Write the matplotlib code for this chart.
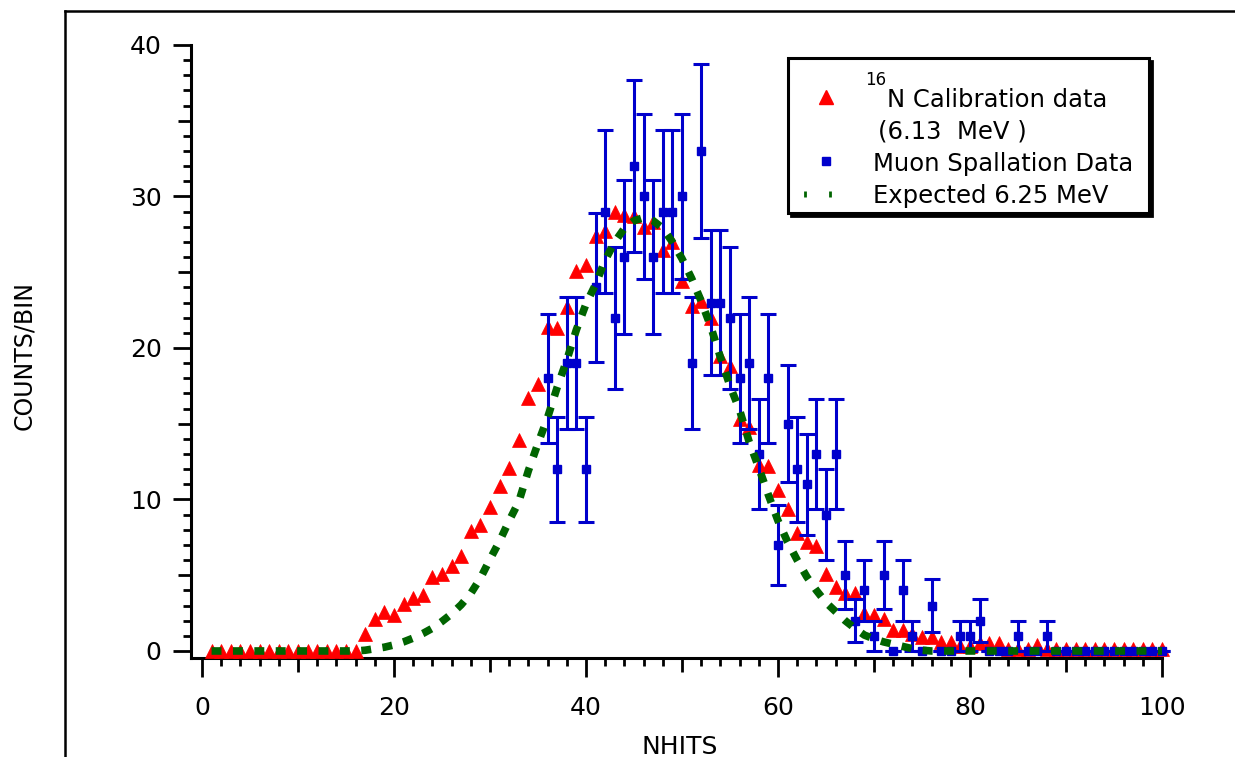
import numpy as np
import matplotlib
matplotlib.use("Agg")
import matplotlib.pyplot as plt
from matplotlib.patches import Rectangle
from matplotlib.lines import Line2D

# ---- data -----------------------------------------------------------------
nhits = list(range(1, 101))

# 16N calibration data (scaled counts per NHITS bin, bins 1..100)
n16_counts = [
    0, 0, 0, 0, 0, 0, 0, 0, 0, 0,
    0, 0, 0, 0, 0, 0, 1.1, 2.1, 2.6, 2.4,
    3.1, 3.5, 3.7, 4.9, 5.1, 5.6, 6.3, 7.9, 8.3, 9.5,
    10.9, 12.1, 13.9, 16.7, 17.6, 21.4, 21.3, 22.7, 25.1, 25.5,
    27.4, 27.7, 29.0, 28.8, 28.7, 28.0, 28.3, 26.5, 27.0, 24.4,
    22.8, 23.1, 22.0, 19.5, 18.8, 15.3, 14.8, 12.3, 12.2, 10.6,
    9.4, 7.8, 7.2, 6.9, 5.1, 4.2, 3.8, 3.8, 2.5, 2.4,
    2.1, 1.4, 1.4, 1.1, 0.9, 0.9, 0.6, 0.6, 0.3, 0.3,
    0.5, 0.5, 0.5, 0.15, 0.15, 0.1, 0.4, 0.15, 0.15, 0.1,
    0.1, 0.15, 0.1, 0.1, 0.1, 0.1, 0.15, 0.1, 0.1, 0.1,
]

# Muon spallation data (raw counts, bins 36..100), errors are sqrt(N)
muon_nhits = list(range(36, 101))
muon_counts = [
    18, 12, 19, 19, 12, 24, 29, 22, 26, 32,
    30, 26, 29, 29, 30, 19, 33, 23, 23, 22,
    18, 19, 13, 18, 7, 15, 12, 11, 13, 9,
    13, 5, 2, 4, 1, 5, 0, 4, 1, 0,
    3, 0, 0, 1, 1, 2, 0, 0, 0, 1,
    0, 0, 1, 0, 0, 0, 0, 0, 0, 0,
    0, 0, 0, 0, 0,
]

# Expected response for 6.25 MeV (bins 1..100)
expected_counts = [
    0, 0, 0, 0, 0, 0, 0, 0, 0, 0,
    0, 0, 0, 0, 0, 0, 0.05, 0.15, 0.25, 0.4,
    0.6, 0.85, 1.15, 1.5, 1.95, 2.45, 3.05, 3.8, 4.8, 6.05,
    7.25, 8.6, 9.85, 11.9, 13.7, 15.4, 17.4, 19.2, 21.2, 22.9,
    24.2, 25.8, 27.0, 27.9, 28.4, 28.6, 28.4, 27.9, 27.0, 25.9,
    24.6, 23.1, 21.4, 19.4, 17.5, 15.9, 13.8, 12.1, 10.3, 8.6,
    7.2, 6.0, 4.9, 4.0, 3.2, 2.6, 2.0, 1.5, 1.05, 0.8,
    0.6, 0.45, 0.3, 0.15, 0.05, 0, 0, 0, 0, 0,
    0, 0, 0, 0, 0, 0, 0, 0, 0, 0,
    0, 0, 0, 0, 0, 0, 0, 0, 0, 0,
]

x_major = [0, 20, 40, 60, 80, 100]
y_major = [0, 10, 20, 30, 40]

RED = "#ff0000"
BLUE = "#0000cc"
GREEN = "#006400"

plt.rcParams["font.family"] = ["DejaVu Sans"]

W, H = 1235, 757
fig = plt.figure(figsize=(W / 100, H / 100), dpi=100)


def fx(px):
    return px / W


def fy(py):
    return 1 - py / H


ax = fig.add_axes([fx(191.4), fy(657.8), fx(1171.6) - fx(191.4), fy(45) - fy(657.8)])
ax.set_xlim(-1.1, 101)
ax.set_ylim(-0.45, 40)

# calibration triangles
ax.plot(nhits, n16_counts, ls="none", marker="^", ms=10, color=RED,
        mec=RED, mew=0.5, zorder=3, clip_on=False)

# spallation points with sqrt(N) error bars
muon_err = np.sqrt(np.array(muon_counts, dtype=float))
ax.errorbar(muon_nhits, muon_counts, yerr=muon_err, fmt="s", ms=6,
            color=BLUE, mec=BLUE, ecolor=BLUE, elinewidth=2.2,
            capsize=5.8, capthick=2.2, zorder=4, clip_on=False)

# expected curve
ax.plot(nhits, expected_counts, color=GREEN, lw=5.5, dashes=(1.3, 1.5),
        dash_capstyle="butt", zorder=5, clip_on=False)

# axes styling
for side in ("top", "right"):
    ax.spines[side].set_visible(False)
for side in ("left", "bottom"):
    ax.spines[side].set_linewidth(2.2)
ax.spines["bottom"].set_bounds(-1.1, 100)

ax.set_xticks(x_major)
ax.set_xticks([v for v in range(2, 100, 2) if v % 20], minor=True)
ax.set_yticks(y_major)
ax.set_yticks([v for v in range(1, 40) if v % 10], minor=True)

ax.tick_params(axis="x", which="major", direction="out", length=13.5,
               width=2.0, pad=14, labelsize=18)
ax.tick_params(axis="y", which="major", direction="out", length=13,
               width=2.0, pad=8.5, labelsize=18)
ax.tick_params(which="minor", direction="out", length=5.8, width=2.0)

# mid-length ticks at every 10 NHITS and every 5 counts
for t, loc in zip(ax.xaxis.get_minor_ticks(), ax.xaxis.get_minorticklocs()):
    if round(loc) % 10 == 0:
        t.tick1line.set_markersize(10)
for t, loc in zip(ax.yaxis.get_minor_ticks(), ax.yaxis.get_minorticklocs()):
    if round(loc) % 5 == 0:
        t.tick1line.set_markersize(9.5)

# axis titles
fig.text(fx(680), fy(754), "NHITS", fontsize=18, ha="center", va="baseline")
fig.text(fx(24), fy(355), "COUNTS/BIN", fontsize=17, rotation=90,
         ha="center", va="center")

# outer frame (top and left edges)
fig.add_artist(Line2D([fx(65), fx(65)], [fy(10.7), fy(760)],
                      transform=fig.transFigure, color="black", lw=1.8))
fig.add_artist(Line2D([fx(65), fx(1240)], [fy(10.7), fy(10.7)],
                      transform=fig.transFigure, color="black", lw=1.8))

# legend box with drop shadow
lx0, ly0, lx1, ly1 = 788, 58, 1149, 213
fig.add_artist(Rectangle((fx(lx0 + 3), fy(ly1 + 3)), fx(lx1) - fx(lx0),
                         fy(ly0) - fy(ly1), transform=fig.transFigure,
                         facecolor="black", edgecolor="black", lw=2, zorder=10))
fig.add_artist(Rectangle((fx(lx0), fy(ly1)), fx(lx1) - fx(lx0),
                         fy(ly0) - fy(ly1), transform=fig.transFigure,
                         facecolor="white", edgecolor="black", lw=2.2, zorder=11))

fig.add_artist(Line2D([fx(826)], [fy(97)], transform=fig.transFigure,
                      ls="none", marker="^", ms=10, color=RED, zorder=12))
fig.add_artist(Line2D([fx(826)], [fy(161)], transform=fig.transFigure,
                      ls="none", marker="s", ms=5.5, color=BLUE, zorder=12))
fig.add_artist(Line2D([fx(805), fx(830)], [fy(194), fy(194)],
                      transform=fig.transFigure, ls="none", marker="|",
                      ms=5, mew=2, color=GREEN, zorder=12))

fig.text(fx(865), fy(85), "16", fontsize=12, ha="left", va="baseline", zorder=12)
fig.text(fx(887), fy(107), "N Calibration data", fontsize=17.5, ha="left",
         va="baseline", zorder=12)
fig.text(fx(878), fy(138), "(6.13  MeV )", fontsize=17.5, ha="left",
         va="baseline", zorder=12)
fig.text(fx(873), fy(171), "Muon Spallation Data", fontsize=17.5, ha="left",
         va="baseline", zorder=12)
fig.text(fx(873), fy(203), "Expected 6.25 MeV", fontsize=17.5, ha="left",
         va="baseline", zorder=12)

fig.savefig("out.png", dpi=100)
